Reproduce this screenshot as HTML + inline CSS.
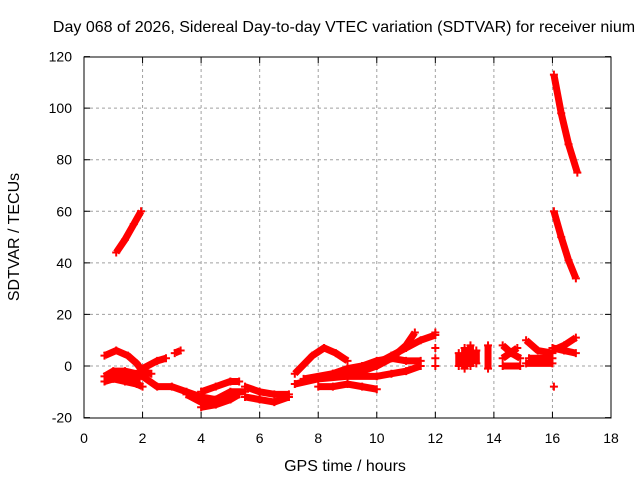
<!DOCTYPE html>
<html><head><meta charset="utf-8"><style>
body{margin:0;background:#fff}
svg{display:block;font-family:"Liberation Sans",sans-serif}
</style></head><body>
<svg id="chart" width="640" height="480">
<text x="344" y="32" text-anchor="middle" font-size="16">Day 068 of 2026, Sidereal Day-to-day VTEC variation (SDTVAR) for receiver nium</text>
<text x="345" y="471" text-anchor="middle" font-size="16">GPS time / hours</text>
<text transform="translate(19,237) rotate(-90)" text-anchor="middle" font-size="16">SDTVAR / TECUs</text>
<g id="grid"></g><g id="marks"></g>
<rect x="84" y="57" width="527" height="361" fill="none" stroke="#000" stroke-width="1"/>
</svg>
<script>
const xTicks=[0,2,4,6,8,10,12,14,16,18];
const yTicks=[-20,0,20,40,60,80,100,120];
const tracks=[
[[1.1,44],[1.4,49],[1.7,55],[1.95,60]],
[[16.05,113],[16.3,98],[16.55,86],[16.85,75]],
[[16.05,60],[16.3,50],[16.55,41],[16.8,34]],
[[0.7,4],[1.1,6],[1.5,4],[1.8,1],[2.0,-2],[2.3,-3]],
[[0.7,-4],[1.0,-2],[1.4,-2],[1.8,-3],[2.0,-4]],
[[0.7,-6],[1.0,-5],[1.4,-6],[1.8,-7],[2.0,-8]],
[[1.0,-3],[1.5,-4],[1.9,-5]],
[[2.0,-1],[2.5,2],[2.8,3]],
[[3.1,5],[3.3,6]],
[[2.0,-4],[2.5,-8],[3.0,-8],[3.5,-10],[4.0,-12],[4.5,-13],[5.0,-12]],
[[3.5,-11],[4.0,-14],[4.5,-13],[5.0,-10],[5.5,-10]],
[[4.0,-10],[4.5,-8],[5.0,-6],[5.3,-6]],
[[4.0,-16],[4.5,-15],[5.0,-13],[5.3,-11]],
[[5.5,-8],[6.0,-10],[6.5,-11],[7.0,-11]],
[[5.5,-12],[6.0,-13],[6.5,-14],[7.0,-12]],
[[7.2,-3],[7.8,4],[8.2,7],[8.6,5],[9.0,2]],
[[7.2,-7],[8.0,-5],[9.0,-4],[9.5,-2],[10.0,0],[10.5,3],[11.0,8],[11.3,13]],
[[7.5,-5],[8.5,-3],[9.5,-1],[10.0,1],[10.5,4],[11.0,7],[11.5,10],[12.0,12]],
[[8.0,-8],[8.5,-8],[9.0,-7],[9.5,-8],[10.0,-9]],
[[8.5,-3],[9.0,-1],[9.5,0],[10.0,2],[10.5,3],[11.0,2],[11.5,2]],
[[9.0,-4],[10.0,-4],[10.5,-3],[11.0,-2],[11.5,0]],
[[12.0,13]],[[12.0,7]],[[12.0,3]],[[12.0,0]],
[[12.8,0],[12.8,5]],[[13.0,-1],[13.0,7]],[[13.2,0],[13.2,8]],[[13.4,1],[13.4,6]],[[13.8,-1],[13.8,8]],
[[14.3,8],[14.6,5],[14.9,3]],[[14.3,3],[14.8,7]],[[14.3,0],[14.9,0]],
[[15.1,10],[15.5,6],[16.0,5]],[[15.1,1],[16.0,1]],[[15.2,3],[16.0,3]],
[[16.0,6],[16.4,8],[16.8,11]],[[16.0,7],[16.4,6],[16.8,5]],[[16.05,-8]]
];
const X=v=>84+v*527/18, Y=v=>366-v*361/140;
const ns="http://www.w3.org/2000/svg";
const grid=document.getElementById('grid'), marks=document.getElementById('marks');
xTicks.forEach(t=>{
 const l=document.createElementNS(ns,'line');
 
 
 l.setAttribute('x1',X(t));l.setAttribute('x2',X(t));l.setAttribute('y1',57);l.setAttribute('y2',418);
 l.setAttribute('stroke',(t>0&&t<18)?'#a0a0a0':'none');l.setAttribute('stroke-dasharray','3,3');grid.appendChild(l);
 const k=document.createElementNS(ns,'path');
 
 
 k.setAttribute('d',`M${X(t)},418v-6M${X(t)},57v6`);k.setAttribute('stroke','#000');grid.appendChild(k);
 const tx=document.createElementNS(ns,'text');
 
 
 tx.setAttribute('x',X(t));tx.setAttribute('y',443);tx.setAttribute('text-anchor','middle');tx.setAttribute('font-size','14');tx.textContent=t;grid.appendChild(tx);
});
yTicks.forEach(t=>{
 const l=document.createElementNS(ns,'line');
 
 
 l.setAttribute('x1',84);l.setAttribute('x2',611);l.setAttribute('y1',Y(t));l.setAttribute('y2',Y(t));
 l.setAttribute('stroke',(t>-20&&t<120)?'#a0a0a0':'none');l.setAttribute('stroke-dasharray','3,3');grid.appendChild(l);
 const k=document.createElementNS(ns,'path');
 
 
 k.setAttribute('d',`M84,${Y(t)}h6M611,${Y(t)}h-6`);k.setAttribute('stroke','#000');grid.appendChild(k);
 const tx=document.createElementNS(ns,'text');
 
 
 tx.setAttribute('x',72);tx.setAttribute('y',Y(t)+5);tx.setAttribute('text-anchor','end');tx.setAttribute('font-size','14');tx.textContent=t;grid.appendChild(tx);
});
tracks.forEach(tr=>{
 const p=document.createElementNS(ns,'polyline');
 
 
 p.setAttribute('points',tr.map(d=>X(d[0])+','+Y(d[1])).join(' '));
 p.setAttribute('fill','none');p.setAttribute('stroke','#f00');p.setAttribute('stroke-width','7');p.setAttribute('stroke-linejoin','round');
 marks.appendChild(p);
 tr.forEach(d=>{
  const m=document.createElementNS(ns,'path');
  
  
  m.setAttribute('d',`M${X(d[0])-4},${Y(d[1])}h8M${X(d[0])},${Y(d[1])-4}v8`);
  m.setAttribute('stroke','#f00');m.setAttribute('stroke-width','2');marks.appendChild(m);
 });
});
</script>
</body></html>
